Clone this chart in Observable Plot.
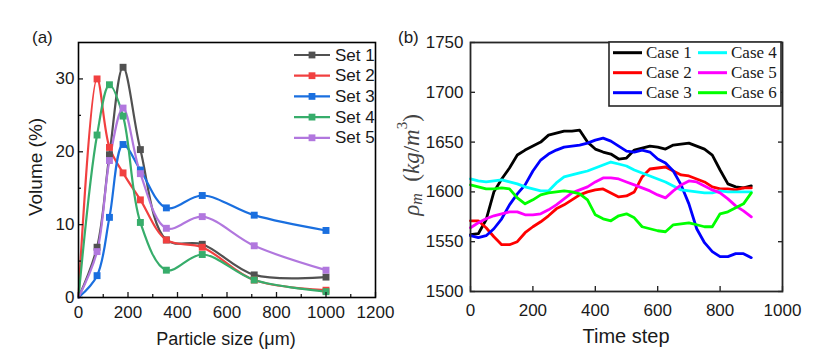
<!DOCTYPE html>
<html><head><meta charset="utf-8">
<script src="https://cdn.jsdelivr.net/npm/d3@7"></script>
<script src="https://cdn.jsdelivr.net/npm/@observablehq/plot@0.6"></script>
<style>
body{margin:0;background:#fff;}
#wrap{position:relative;width:822px;height:357px;overflow:hidden;background:#fff;}
#a{position:absolute;left:0;top:0;}
#b{position:absolute;left:400px;top:0;}
#wrap svg{overflow:visible;}
</style></head><body><div id="wrap"><div id="a"></div><div id="b"></div></div>
<script>
// ---------- Panel (a) data ----------
const sizes = [0, 75, 125, 180, 250, 355, 500, 710, 1000];
const setNames = ["Set 1", "Set 2", "Set 3", "Set 4", "Set 5"];
const setColors = ["#515151", "#F14040", "#1A6FDF", "#37AD6B", "#B177DE"];
const set1 = [0, 6.9, 19.6, 31.6, 20.3, 7.9, 7.3, 3.1, 2.8];
const set2 = [0, 30.0, 20.6, 17.1, 13.4, 7.9, 6.9, 2.4, 1.0];
const set3 = [0, 3.0, 11.0, 21.0, 17.5, 12.3, 14.0, 11.3, 9.2];
const set4 = [0, 22.3, 29.2, 24.9, 10.3, 3.75, 5.9, 2.4, 0.8];
const set5 = [0, 6.3, 18.8, 26.0, 17.0, 9.5, 11.1, 7.1, 3.75];
const xMajorA = [0, 200, 400, 600, 800, 1000, 1200];
const xMinorA = [100, 300, 500, 700, 900, 1100];
const yMajorA = [0, 10, 20, 30];
const yMinorA = [5, 15, 25];

// ---------- Panel (b) data ----------
const steps = [0,25,50,75,100,125,150,175,200,225,250,275,300,325,350,375,400,425,450,475,500,525,550,575,600,625,650,675,700,725,750,775,800,825,850,875,900];
const caseNames = ["Case 1", "Case 2", "Case 3", "Case 4", "Case 5", "Case 6"];
const caseColors = ["#000000", "#ff0000", "#0000ff", "#00ffff", "#ff00ff", "#00ff00"];
const case1 = [1557,1558,1572,1600,1613,1624,1637,1642,1646,1650,1657,1659,1661,1661,1662,1650,1643,1640,1638,1633,1634,1642,1644,1646,1645,1643,1647,1648,1649,1646,1643,1637,1622,1608,1605,1604,1606];
const case2 = [1571,1571,1564,1555,1547,1547,1550,1559,1565,1570,1576,1583,1587,1592,1597,1600,1602,1603,1599,1595,1596,1600,1615,1623,1624,1625,1621,1617,1616,1613,1610,1605,1603,1603,1602,1604,1604];
const case3 = [1556,1554,1556,1563,1573,1587,1598,1607,1621,1632,1638,1642,1645,1646,1647,1649,1652,1654,1651,1646,1641,1640,1642,1640,1633,1629,1621,1607,1588,1563,1549,1540,1535,1535,1538,1538,1534];
const case4 = [1613,1611,1610,1611,1612,1610,1608,1605,1603,1601,1601,1609,1615,1617,1619,1621,1624,1627,1630,1628,1626,1622,1619,1616,1613,1610,1606,1602,1601,1600,1599,1599,1601,1600,1600,1600,1600];
const case5 = [1564,1569,1573,1576,1578,1580,1580,1577,1577,1578,1582,1587,1593,1599,1602,1605,1610,1614,1614,1613,1610,1607,1604,1601,1597,1594,1601,1607,1611,1610,1606,1602,1599,1593,1586,1581,1575];
const case6 = [1607,1605,1603,1603,1604,1603,1594,1588,1592,1597,1599,1600,1601,1600,1598,1592,1577,1573,1571,1576,1578,1574,1565,1563,1561,1560,1567,1568,1569,1567,1565,1565,1578,1580,1584,1588,1599];
const xTicksB = [0, 200, 400, 600, 800, 1000];
const yTicksB = [1500, 1550, 1600, 1650, 1700, 1750];

// ---------- build tables ----------
const setsVals = [set1, set2, set3, set4, set5];
const rowsA = [];
setNames.forEach((s, i) => sizes.forEach((x, j) => rowsA.push({set: s, x, y: setsVals[i][j]})));
const casesVals = [case1, case2, case3, case4, case5, case6];
const rowsB = [];
caseNames.forEach((c, i) => steps.forEach((t, j) => rowsB.push({c, t, v: casesVals[i][j]})));

const none = () => "";
const fmt = d3.format("d");

// ---------- Panel (a) ----------
const plotA = Plot.plot({
  width: 400, height: 357,
  marginLeft: 78, marginRight: 25, marginTop: 42, marginBottom: 60,
  x: {domain: [0, 1200]},
  y: {domain: [0, 35]},
  color: {domain: setNames, range: setColors},
  style: {fontFamily: "Liberation Sans, Arial, sans-serif", fontSize: "17px", color: "#1a1a1a", background: "white", overflow: "visible"},
  marks: [
    Plot.line(rowsA, {x: "x", y: "y", z: "set", stroke: "set", curve: "catmull-rom", strokeWidth: 2.2}),
    Plot.dot(rowsA.filter(d => d.x > 0), {x: "x", y: "y", fill: "set", symbol: "square", r: 3.9}),
    Plot.axisX(xMajorA, {tickSize: 0, tickPadding: 8, label: null, fontSize: 17, tickFormat: fmt}),
    Plot.axisX(xMajorA, {tickSize: -5, tickFormat: none, label: null, strokeWidth: 1.3}),
    Plot.axisX(xMinorA, {tickSize: -3, tickFormat: none, label: null, strokeWidth: 1.3}),
    Plot.axisY(yMajorA, {tickSize: 0, tickPadding: 4, label: null, fontSize: 17, tickFormat: fmt}),
    Plot.axisY(yMajorA, {tickSize: -5, tickFormat: none, label: null, strokeWidth: 1.3}),
    Plot.axisY(yMinorA, {tickSize: -3, tickFormat: none, label: null, strokeWidth: 1.3}),
    Plot.frame({stroke: "#000", strokeWidth: 1.6})
  ]
});
document.getElementById("a").appendChild(plotA);

// ---------- Panel (b) ----------
const plotB = Plot.plot({
  width: 422, height: 357,
  marginLeft: 70, marginRight: 40, marginTop: 42, marginBottom: 66,
  x: {domain: [0, 1000]},
  y: {domain: [1500, 1750]},
  color: {domain: caseNames, range: caseColors},
  style: {fontFamily: "Liberation Sans, Arial, sans-serif", fontSize: "17px", color: "#1a1a1a", overflow: "visible"},
  marks: [
    Plot.line(rowsB, {x: "t", y: "v", z: "c", stroke: "c", strokeWidth: 2.8}),
    Plot.axisX(xTicksB, {tickSize: 0, tickPadding: 12, label: null, fontSize: 17, tickFormat: fmt}),
    Plot.axisX(xTicksB, {tickSize: -5, tickFormat: none, label: null, strokeWidth: 1.3}),
    Plot.axisY(yTicksB, {tickSize: 0, tickPadding: 7, label: null, fontSize: 17, tickFormat: fmt}),
    Plot.axisY(yTicksB, {tickSize: -5, tickFormat: none, label: null, strokeWidth: 1.3}),
    Plot.axisY(yTicksB, {anchor: "right", tickSize: -5, tickFormat: none, label: null, strokeWidth: 1.3}),
    Plot.frame({stroke: "#262626", strokeWidth: 1.8})
  ]
});
document.getElementById("b").appendChild(plotB);

// ---------- annotations: labels & legends ----------
const sa = d3.select(plotA);
const sans = "Liberation Sans, Arial, sans-serif";
sa.append("text").attr("x", 32).attr("y", 37).attr("text-anchor", "start").attr("dominant-baseline", "central")
  .attr("font-family", sans).attr("font-size", 17).attr("fill", "#1a1a1a").text("(a)");
sa.append("text").attr("x", 226).attr("y", 339).attr("text-anchor", "middle").attr("dominant-baseline", "central")
  .attr("font-family", sans).attr("font-size", 18).attr("fill", "#1a1a1a").text("Particle size (μm)");
sa.append("text").attr("transform", "translate(35,167) rotate(-90)").attr("text-anchor", "middle").attr("dominant-baseline", "central")
  .attr("font-family", sans).attr("font-size", 19).attr("fill", "#1a1a1a").text("Volume (%)");
const legA = sa.append("g");
setNames.forEach((s, i) => {
  const y = 55 + 20.7 * i;
  legA.append("line").attr("x1", 294).attr("x2", 330).attr("y1", y).attr("y2", y)
    .attr("stroke", setColors[i]).attr("stroke-width", 2.2);
  legA.append("rect").attr("x", 312 - 3.4).attr("y", y - 3.4).attr("width", 6.8).attr("height", 6.8).attr("fill", setColors[i]);
  legA.append("text").attr("x", 335).attr("y", y).attr("text-anchor", "start").attr("dominant-baseline", "central")
    .attr("font-family", sans).attr("font-size", 17).attr("fill", "#1a1a1a").text(s);
});

const sb = d3.select(plotB);
sb.append("text").attr("x", -2).attr("y", 37).attr("text-anchor", "start").attr("dominant-baseline", "central")
  .attr("font-family", sans).attr("font-size", 17).attr("fill", "#1a1a1a").text("(b)");
sb.append("text").attr("x", 226).attr("y", 336).attr("text-anchor", "middle").attr("dominant-baseline", "central")
  .attr("font-family", sans).attr("font-size", 20).attr("fill", "#1a1a1a").text("Time step");
const serif = "Liberation Serif, DejaVu Serif, serif";
const yl = sb.append("text").attr("transform", "translate(11,165) rotate(-90)").attr("text-anchor", "middle")
  .attr("dominant-baseline", "central").attr("font-family", serif).attr("font-size", 23).attr("fill", "#444");
yl.append("tspan").attr("font-style", "italic").text("ρ");
yl.append("tspan").attr("font-style", "italic").attr("font-size", 16).attr("dy", 5).text("m");
yl.append("tspan").attr("dy", -5).text("  (");
yl.append("tspan").attr("font-style", "italic").text("kg");
yl.append("tspan").text("/");
yl.append("tspan").attr("font-style", "italic").text("m");
yl.append("tspan").attr("font-size", 15).attr("dy", -9).text("3");
yl.append("tspan").attr("dy", 9).text(")");

const legB = sb.append("g");
legB.append("rect").attr("x", 209).attr("y", 42).attr("width", 172).attr("height", 64)
  .attr("fill", "white").attr("stroke", "#262626").attr("stroke-width", 1.6);
caseNames.forEach((c, i) => {
  const col = Math.floor(i / 3), row = i % 3;
  const y = 52.7 + 20 * row;
  const x0 = col === 0 ? 213 : 298;
  legB.append("line").attr("x1", x0).attr("x2", x0 + 29).attr("y1", y).attr("y2", y)
    .attr("stroke", caseColors[i]).attr("stroke-width", 3);
  legB.append("text").attr("x", x0 + 33).attr("y", y).attr("text-anchor", "start").attr("dominant-baseline", "central")
    .attr("font-family", serif).attr("font-size", 17).attr("fill", "#1a1a1a").text(c);
});
</script>
</body></html>
